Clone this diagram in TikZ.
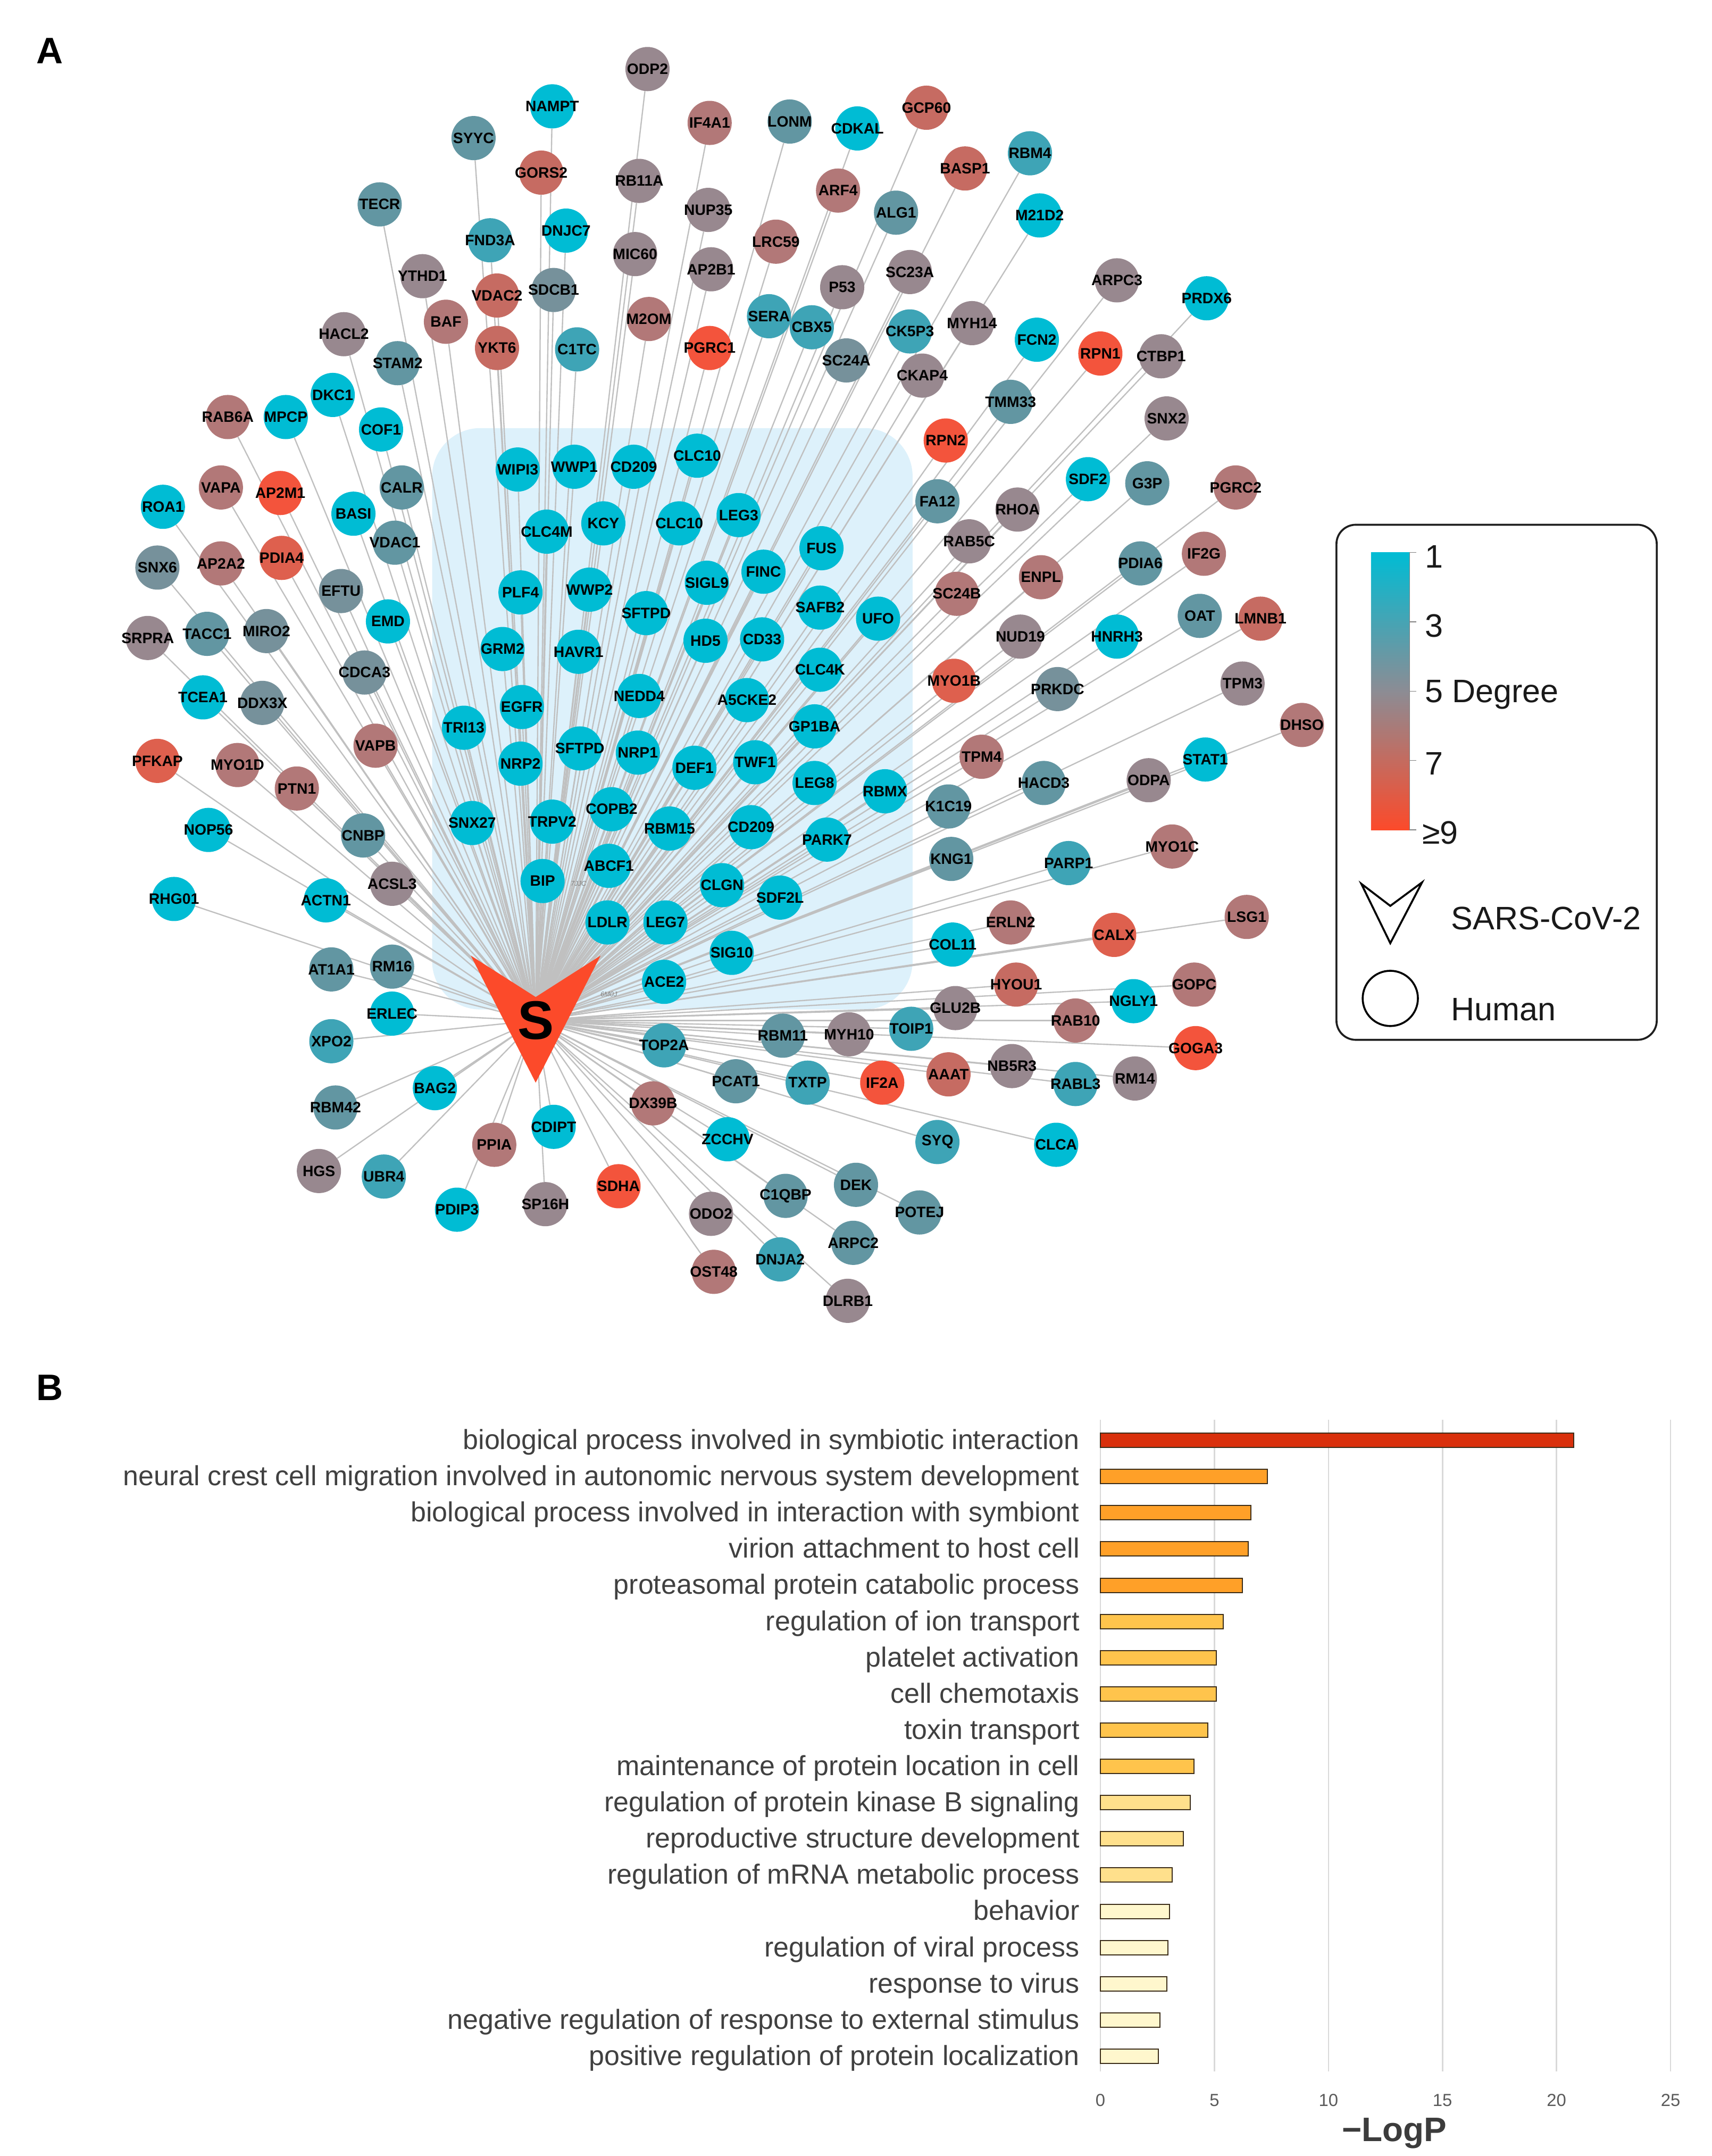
\documentclass[tikz,border=0pt]{standalone}
\usepackage{fontspec}
\setmainfont{Liberation Sans}
\pgfdeclarelayer{bgwhite}
\pgfdeclarelayer{boxl}
\pgfdeclarelayer{edges}
\pgfsetlayers{bgwhite,boxl,edges,main}
\definecolor{dA}{RGB}{0,188,212}
\definecolor{dB}{RGB}{62,164,182}
\definecolor{dC}{RGB}{98,150,162}
\definecolor{dD}{RGB}{118,145,155}
\definecolor{dE}{RGB}{152,136,143}
\definecolor{dF}{RGB}{178,120,120}
\definecolor{dG}{RGB}{198,107,98}
\definecolor{dGb}{RGB}{222,96,78}
\definecolor{dH}{RGB}{243,84,60}
\definecolor{sred}{RGB}{252,74,42}
\definecolor{boxblue}{RGB}{221,241,251}
\definecolor{barR}{RGB}{217,48,12}
\definecolor{barO}{RGB}{255,160,40}
\definecolor{barY}{RGB}{255,196,76}
\definecolor{barL}{RGB}{255,224,140}
\definecolor{barP}{RGB}{255,247,205}
\definecolor{midgray}{RGB}{140,140,148}
\newcommand\hlab{\fontsize{15.5pt}{16pt}\selectfont\bfseries}
\newcommand\blab{\fontsize{28.5pt}{30pt}\selectfont}
\newcommand\leglab{\fontsize{33.5pt}{35pt}\selectfont}
\newcommand\plab{\fontsize{38pt}{40pt}\selectfont\bfseries}
\newcommand\tlab{\fontsize{18pt}{19pt}\selectfont}
\newcommand\axlab{\fontsize{35pt}{36pt}\selectfont\bfseries}
\newcommand\slab{\fontsize{56pt}{56pt}\selectfont\bfseries}
\newcommand\pdblab{\fontsize{7pt}{7pt}\selectfont\itshape}
\begin{document}
\begin{tikzpicture}[x=0.05cm,y=-0.05cm,
 hnode/.style={circle,minimum size=1.6cm,inner sep=0pt,font=\hlab,text=black},
 lnk/.style={draw={rgb,255:red,192;green,192;blue,192},line width=1.3pt},
 gridln/.style={draw={rgb,255:red,217;green,217;blue,217},line width=1.4pt},
 barbox/.style={draw={rgb,255:red,60;green,45;blue,25},line width=1.1pt},
 blabel/.style={font=\blab,text={rgb,255:red,64;green,64;blue,64},inner sep=0pt,anchor=base east},
 ticklab/.style={font=\tlab,text={rgb,255:red,90;green,90;blue,90},inner sep=0pt},
 legtext/.style={font=\leglab,text={rgb,255:red,25;green,25;blue,25},inner sep=0pt,anchor=west},
 panel/.style={font=\plab,inner sep=0pt}]
\useasboundingbox (0,0) rectangle (1240,1561.3);
\begin{pgfonlayer}{bgwhite}
\fill[white] (0,0) rectangle (1240,1561.3);
\end{pgfonlayer}
% panel labels
\node[panel] (labA) at (36,37) {A};
\node[panel] (labB) at (36,1005) {B};
% shaded box
\begin{pgfonlayer}{boxl}
\fill[boxblue,rounded corners=1.75cm] (313,310) rectangle (661,731);
\end{pgfonlayer}
% SARS-CoV-2 node
\fill[sred] (341,692) -- (388,722) -- (435,692) -- (388,784) -- cycle;
\node[font=\slab,inner sep=0pt] (S) at (388,739) {S};
\node[font=\pdblab,text=gray,inner sep=0pt] (pdbA) at (419,640) {7JJC};
\node[font=\pdblab,text=gray,inner sep=0pt] (pdbB) at (441,720) {6M0J};
% human nodes
\foreach \nm/\x/\y/\c/\t in {
ODP2/469/50/dE/ODP2, NAMPT/400/77/dA/NAMPT, SYYC/343/100/dC/SYYC, IF4A1/514/89/dF/IF4A1,
LONM/572/88/dC/LONM, CDKAL/621/93/dA/CDKAL, GCP60/671/78/dG/GCP60, BASP1/699/122/dG/BASP1,
RBM4/746/111/dB/RBM4, GORS2/392/125/dG/GORS2, RB11A/463/131/dE/RB11A, ARF4/607/138/dF/ARF4,
TECR/275/148/dC/TECR, NUP35/513/152/dE/NUP35, ALG1/649/154/dC/ALG1, M21D2/753/156/dA/M21D2,
FND3A/355/174/dB/FND3A, DNJC7/410/167/dA/DNJC7, LRC59/562/175/dF/LRC59, MIC60/460/184/dE/MIC60,
YTHD1/306/200/dE/YTHD1, VDAC2/360/214/dG/VDAC2, SDCB1/401/210/dD/SDCB1, AP2B1/515/195/dE/AP2B1,
P53/610/208/dE/P53, SC23A/659/197/dE/SC23A, ARPC3/809/203/dE/ARPC3, PRDX6/874/216/dA/PRDX6,
BAF/323/233/dF/BAF, M2OM/470/231/dF/M2OM, SERA/557/229/dB/SERA, CBX5/588/237/dB/CBX5,
CK5P3/659/240/dB/CK5P3, MYH14/704/234/dE/MYH14, FCN2/751/246/dA/FCN2, RPN1/797/256/dH/RPN1,
CTBP1/841/258/dE/CTBP1, HACL2/249/242/dE/HACL2, YKT6/360/252/dG/YKT6, C1TC/418/253/dB/C1TC,
PGRC1/514/252/dH/PGRC1, SC24A/613/261/dD/SC24A, CKAP4/668/272/dE/CKAP4, STAM2/288/263/dC/STAM2,
DKC1/241/286/dA/DKC1, TMM33/732/291/dC/TMM33, SNX2/845/303/dE/SNX2, RAB6A/165/302/dF/RAB6A,
MPCP/207/302/dA/MPCP, COF1/276/311/dA/COF1, RPN2/685/319/dH/RPN2, SDF2/788/347/dA/SDF2,
G3P/831/350/dC/G3P, PGRC2/895/353/dF/PGRC2, CALR/291/353/dC/CALR, VAPA/160/353/dF/VAPA,
AP2M1/203/357/dH/AP2M1, ROA1/118/367/dA/ROA1, BASI/256/372/dA/BASI, FA12/679/363/dC/FA12,
RHOA/737/369/dE/RHOA, VDAC1/286/393/dC/VDAC1, RAB5C/702/392/dE/RAB5C, SNX6/114/411/dD/SNX6,
AP2A2/160/408/dF/AP2A2, PDIA4/204/404/dGb/PDIA4, PDIA6/826/408/dC/PDIA6, IF2G/872/401/dF/IF2G,
ENPL/754/418/dF/ENPL, EFTU/247/428/dD/EFTU, SC24B/693/430/dF/SC24B, OAT/869/446/dC/OAT,
LMNB1/913/448/dG/LMNB1, EMD/281/450/dA/EMD, NUD19/739/461/dE/NUD19, HNRH3/809/461/dA/HNRH3,
SRPRA/107/462/dE/SRPRA, TACC1/150/459/dC/TACC1, MIRO2/193/457/dD/MIRO2, CDCA3/264/487/dD/CDCA3,
MYO1B/691/493/dGb/MYO1B, PRKDC/766/499/dD/PRKDC, TPM3/900/495/dE/TPM3, TCEA1/147/505/dA/TCEA1,
DDX3X/190/509/dD/DDX3X, DHSO/943/525/dF/DHSO, VAPB/272/540/dF/VAPB, STAT1/873/550/dA/STAT1,
TPM4/711/548/dF/TPM4, PFKAP/114/551/dGb/PFKAP, MYO1D/172/554/dF/MYO1D, HACD3/756/567/dC/HACD3,
ODPA/832/565/dE/ODPA, PTN1/215/571/dF/PTN1, K1C19/687/584/dC/K1C19, NOP56/151/601/dA/NOP56,
CNBP/263/605/dC/CNBP, MYO1C/849/613/dF/MYO1C, KNG1/689/622/dC/KNG1, PARP1/774/625/dB/PARP1,
ACSL3/284/640/dE/ACSL3, RHG01/126/651/dA/RHG01, ACTN1/236/652/dA/ACTN1, LSG1/903/664/dF/LSG1,
ERLN2/732/668/dF/ERLN2, CALX/807/677/dGb/CALX, COL11/690/684/dA/COL11, AT1A1/240/702/dC/AT1A1,
RM16/284/700/dC/RM16, HYOU1/736/713/dG/HYOU1, GOPC/865/713/dF/GOPC, GLU2B/692/730/dE/GLU2B,
NGLY1/821/725/dA/NGLY1, ERLEC/284/734/dA/ERLEC, RAB10/779/739/dF/RAB10, XPO2/240/754/dB/XPO2,
TOP2A/481/757/dB/TOP2A, RBM11/567/750/dC/RBM11, MYH10/615/749/dE/MYH10, TOIP1/660/745/dB/TOIP1,
GOGA3/866/759/dH/GOGA3, AAAT/687/778/dG/AAAT, NB5R3/733/772/dE/NB5R3, RABL3/779/785/dB/RABL3,
RM14/822/781/dE/RM14, PCAT1/533/783/dC/PCAT1, TXTP/585/784/dB/TXTP, IF2A/639/784/dH/IF2A,
BAG2/315/788/dA/BAG2, RBM42/243/802/dC/RBM42, DX39B/473/799/dF/DX39B, CDIPT/401/816/dA/CDIPT,
ZCCHV/527/825/dA/ZCCHV, SYQ/679/827/dB/SYQ, CLCA/765/829/dA/CLCA, PPIA/358/829/dF/PPIA,
HGS/231/848/dE/HGS, UBR4/278/852/dB/UBR4, SDHA/448/859/dH/SDHA, DEK/620/858/dC/DEK,
SP16H/395/872/dE/SP16H, PDIP3/331/876/dA/PDIP3, C1QBP/569/866/dC/C1QBP, ODO2/515/879/dE/ODO2,
POTEJ/666/878/dC/POTEJ, ARPC2/618/900/dC/ARPC2, DNJA2/565/912/dB/DNJA2, OST48/517/921/dF/OST48,
DLRB1/614/942/dE/DLRB1,
WIPI3/375/340/dA/WIPI3, WWP1/416/338/dA/WWP1, CD209/459/338/dA/CD209, CLC10/505/330/dA/CLC10,
CLC4M/396/385/dA/CLC4M, KCY/437/379/dA/KCY, CLC10b/492/379/dA/CLC10, LEG3/535/373/dA/LEG3,
FUS/595/397/dA/FUS, PLF4/377/429/dA/PLF4, WWP2/427/427/dA/WWP2, SIGL9/512/422/dA/SIGL9,
FINC/553/414/dA/FINC, SFTPD/468/444/dA/SFTPD, SAFB2/594/440/dA/SAFB2, UFO/636/448/dA/UFO,
GRM2/364/470/dA/GRM2, HAVR1/419/472/dA/HAVR1, HD5/511/464/dA/HD5, CD33/552/463/dA/CD33,
CLC4K/594/485/dA/CLC4K, EGFR/378/512/dA/EGFR, NEDD4/463/504/dA/NEDD4, A5CKE2/541/507/dA/A5CKE2,
TRI13/336/527/dA/TRI13, GP1BA/590/526/dA/GP1BA, SFTPDb/420/542/dA/SFTPD, NRP2/377/553/dA/NRP2,
NRP1/462/545/dA/NRP1, DEF1/503/556/dA/DEF1, TWF1/547/552/dA/TWF1, LEG8/590/567/dA/LEG8,
RBMX/641/573/dA/RBMX, SNX27/342/596/dA/SNX27, TRPV2/400/595/dA/TRPV2, COPB2/443/586/dA/COPB2,
RBM15/485/600/dA/RBM15, CD209b/544/599/dA/CD209, PARK7/599/608/dA/PARK7, ABCF1/441/627/dA/ABCF1,
BIP/393/638/dA/BIP, CLGN/523/641/dA/CLGN, SDF2L/565/650/dA/SDF2L, LDLR/440/668/dA/LDLR,
LEG7/482/668/dA/LEG7, SIG10/530/690/dA/SIG10, ACE2/481/711/dA/ACE2}
{
  \node[hnode,fill=\c] (\nm) at (\x,\y) {\makebox[0pt]{\t}};
  \begin{pgfonlayer}{edges}
    \draw[lnk] (S.center) -- (\nm);
  \end{pgfonlayer}
}
% legend
\draw[line width=2pt,draw={rgb,255:red,30;green,30;blue,30},rounded corners=0.7cm] (968,380) rectangle (1200,753);
\shade[top color=dA,bottom color=sred,middle color=midgray] (993,400) rectangle (1021,601);
\draw[line width=0.8pt,gray] (1021,400) -- (1021,601);
\foreach \yy in {400,450.25,500.5,550.75,601}{\draw[line width=0.8pt,gray] (1021,\yy) -- (1026,\yy);}
\node[legtext] (lg1) at (1032,403) {1};
\node[legtext] (lg3) at (1032,453) {3};
\node[legtext] (lg5) at (1032,503) {5 Degree};
\node[legtext] (lg7) at (1032,553) {7};
\node[legtext] (lg9) at (1030,603) {≥9};
\draw[line width=2pt,line join=miter] (986,640) -- (1007,656) -- (1030,639) -- (1007,683) -- cycle;
\node[legtext] (lgS) at (1051,665) {SARS-CoV-2};
\draw[line width=2pt] (1007,723) circle [radius=1cm];
\node[legtext] (lgH) at (1051,731) {Human};
% bar chart
\foreach \k in {0,...,5}{
  \draw[gridln] (797+82.6*\k,1028) -- (797+82.6*\k,1500);
  \pgfmathtruncatemacro\vv{5*\k}
  \node[ticklab] (tk\k) at (797+82.6*\k,1521) {\vv};
}
\foreach \i/\e/\c/\t in {
1/1140/barR/{biological process involved in symbiotic interaction},
2/918/barO/{neural crest cell migration involved in autonomic nervous system development},
3/906/barO/{biological process involved in interaction with symbiont},
4/904/barO/{virion attachment to host cell},
5/900/barO/{proteasomal protein catabolic process},
6/886/barY/{regulation of ion transport},
7/881/barY/{platelet activation},
8/881/barY/{cell chemotaxis},
9/875/barY/{toxin transport},
10/865/barY/{maintenance of protein location in cell},
11/862/barL/{regulation of protein kinase B signaling},
12/857/barL/{reproductive structure development},
13/849/barL/{regulation of mRNA metabolic process},
14/847/barP/{behavior},
15/846/barP/{regulation of viral process},
16/845/barP/{response to virus},
17/840/barP/{negative regulation of response to external stimulus},
18/839/barP/{positive regulation of protein localization}}
{
  \pgfmathsetmacro\yy{1043+26.24*(\i-1)}
  \draw[barbox,fill=\c] (797,\yy-5.2) rectangle (\e,\yy+5.2);
  \node[blabel] (bl\i) at (782,\yy+6.5) {\t};
}
\node[font=\axlab,text={rgb,255:red,60;green,60;blue,60},inner sep=0pt] (axl) at (1010,1545) {−LogP};
\end{tikzpicture}
\end{document}
